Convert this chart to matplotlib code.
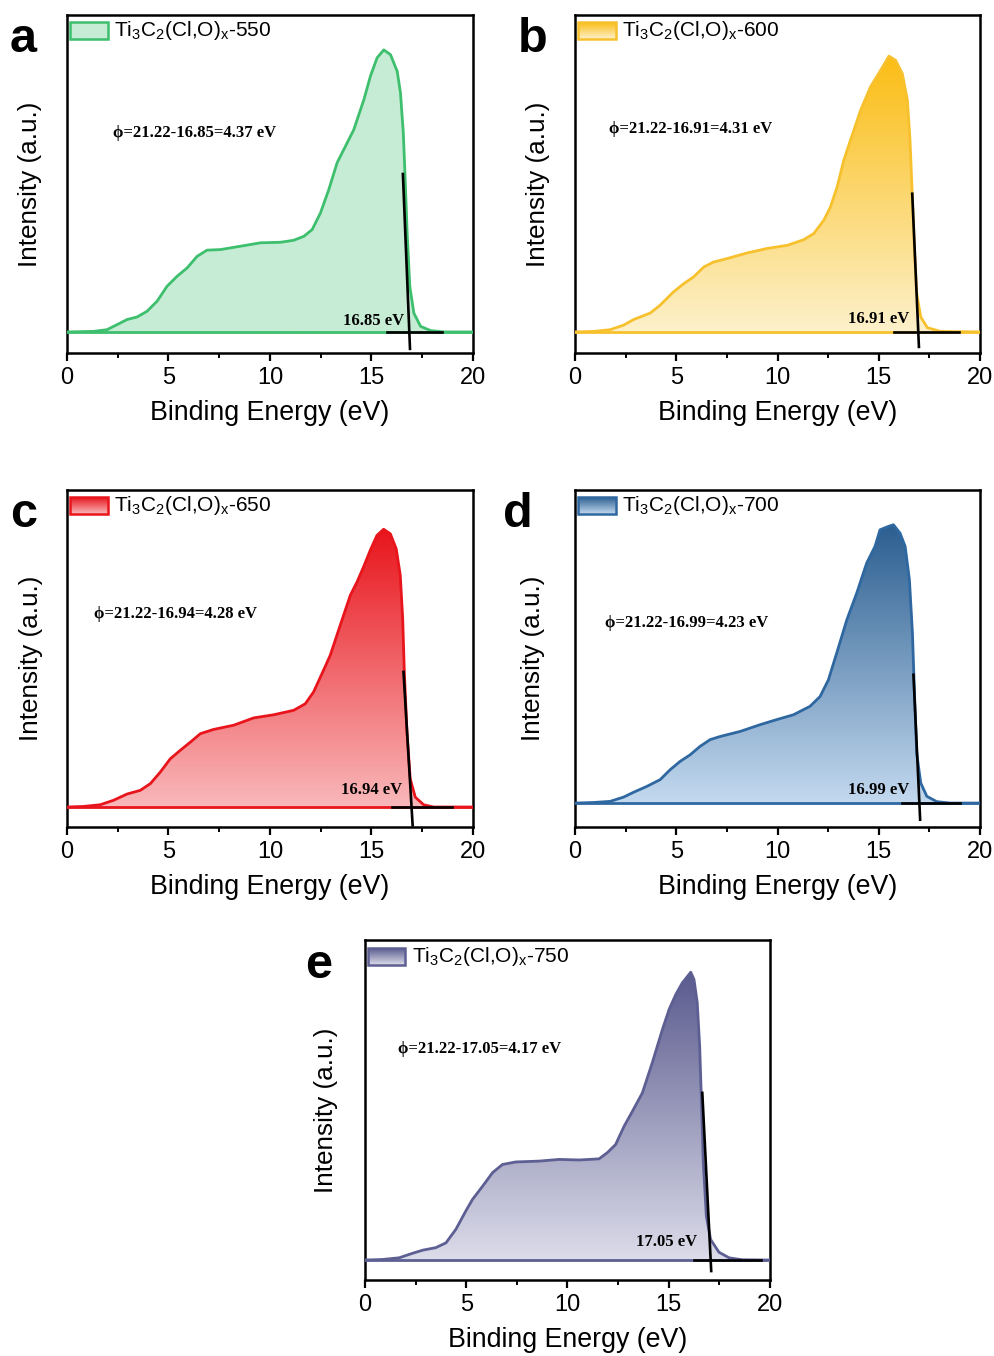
import numpy as np
import matplotlib
matplotlib.use('Agg')
import matplotlib.pyplot as plt
from matplotlib.colors import LinearSegmentedColormap
from matplotlib.patches import Polygon, Rectangle

plt.rcParams['font.family'] = ['Liberation Sans', 'DejaVu Sans']
plt.rcParams['mathtext.fontset'] = 'custom'
plt.rcParams['mathtext.rm'] = 'Liberation Sans'

# ---- data (binding energy in eV, intensity in a.u., baseline = 0) ----
x_550 = [0, 1.31, 1.97, 2.47, 2.96, 3.45, 3.94, 4.44, 4.93, 5.42, 5.92, 6.41, 6.9, 7.56,
         8.55, 9.53, 10.52, 11.17, 11.67, 12.08, 12.49, 12.9, 13.31, 13.64, 14.13, 14.63,
         14.95, 15.28, 15.61, 15.94, 16.27, 16.43, 16.57, 16.65, 16.76, 16.89, 17.09,
         17.42, 17.91, 18.57, 20]
y_550 = [0, 0.002, 0.008, 0.026, 0.044, 0.053, 0.073, 0.109, 0.162, 0.197, 0.227, 0.268,
         0.29, 0.292, 0.304, 0.316, 0.318, 0.325, 0.339, 0.363, 0.422, 0.505, 0.6, 0.647,
         0.717, 0.824, 0.907, 0.972, 1.0, 0.983, 0.924, 0.848, 0.706, 0.564, 0.351, 0.162,
         0.067, 0.02, 0.005, 0, 0]

x_600 = [0, 0.91, 1.73, 2.39, 2.89, 3.71, 4.2, 4.86, 5.36, 5.85, 6.35, 6.84, 7.5, 8.49,
         9.48, 10.47, 11.29, 11.79, 12.28, 12.61, 12.94, 13.27, 13.6, 14.1, 14.59, 15.09,
         15.5, 15.83, 16.16, 16.41, 16.54, 16.65, 16.77, 16.87, 17.07, 17.4, 18.05, 20]
y_600 = [0, 0.002, 0.008, 0.024, 0.044, 0.067, 0.095, 0.142, 0.171, 0.195, 0.23, 0.248,
         0.26, 0.28, 0.296, 0.307, 0.327, 0.349, 0.396, 0.443, 0.514, 0.609, 0.68, 0.786,
         0.869, 0.928, 0.978, 0.963, 0.916, 0.822, 0.68, 0.49, 0.278, 0.136, 0.053, 0.015,
         0.002, 0]

x_650 = [0, 0.82, 1.64, 2.3, 2.96, 3.61, 4.11, 4.6, 5.09, 5.58, 6.08, 6.57, 7.22, 8.21,
         9.2, 10.18, 11.17, 11.74, 12.15, 12.64, 12.97, 13.46, 13.96, 14.29, 14.61, 14.94,
         15.27, 15.6, 15.93, 16.22, 16.42, 16.54, 16.62, 16.75, 16.91, 17.16, 17.57, 18.06, 20]
y_650 = [0, 0.002, 0.008, 0.024, 0.046, 0.059, 0.083, 0.124, 0.171, 0.201, 0.23, 0.26,
         0.275, 0.29, 0.316, 0.327, 0.343, 0.366, 0.408, 0.485, 0.538, 0.644, 0.751, 0.798,
         0.851, 0.91, 0.963, 0.985, 0.969, 0.916, 0.822, 0.668, 0.479, 0.266, 0.1, 0.035,
         0.008, 0, 0]

x_700 = [0, 0.91, 1.73, 2.39, 2.88, 3.54, 4.2, 4.69, 5.19, 5.68, 6.17, 6.67, 7.16, 8.15,
         9.14, 9.96, 10.78, 11.6, 12.1, 12.51, 12.92, 13.42, 13.91, 14.4, 14.81, 15.06,
         15.47, 15.72, 16.05, 16.3, 16.51, 16.66, 16.76, 16.87, 17.07, 17.37, 17.86, 18.52, 20]
y_700 = [0, 0.002, 0.006, 0.021, 0.038, 0.059, 0.083, 0.118, 0.148, 0.171, 0.201, 0.225,
         0.236, 0.254, 0.278, 0.296, 0.313, 0.343, 0.378, 0.437, 0.532, 0.65, 0.745, 0.851,
         0.91, 0.969, 0.981, 0.987, 0.957, 0.91, 0.792, 0.603, 0.39, 0.177, 0.071, 0.024,
         0.005, 0, 0]

x_750 = [0, 0.87, 1.69, 2.35, 2.85, 3.5, 4.0, 4.49, 4.98, 5.31, 5.81, 6.3, 6.79, 7.45,
         8.6, 9.59, 10.58, 11.56, 11.97, 12.38, 12.8, 13.21, 13.7, 14.19, 14.69, 15.02,
         15.35, 15.67, 16.09, 16.25, 16.41, 16.53, 16.61, 16.71, 16.86, 17.07, 17.48,
         17.98, 18.63, 20]
y_750 = [0, 0.002, 0.008, 0.024, 0.035, 0.044, 0.061, 0.109, 0.174, 0.215, 0.262, 0.31,
         0.339, 0.348, 0.351, 0.357, 0.355, 0.359, 0.381, 0.41, 0.475, 0.528, 0.593, 0.7,
         0.818, 0.889, 0.942, 0.983, 1.021, 0.995, 0.913, 0.759, 0.582, 0.345, 0.156, 0.073,
         0.028, 0.008, 0.001, 0]

temps = ['550', '600', '650', '700', '750']
cutoffs = [16.85, 16.91, 16.94, 16.99, 17.05]
work_fn = [4.37, 4.31, 4.28, 4.23, 4.17]
# tangent line end points (x0, y0, x1, y1) and baseline segment (xa, xb)
tangents = [(16.55, 0.56, 16.9, -0.06), (16.65, 0.49, 16.98, -0.053),
            (16.58, 0.479, 17.03, -0.065), (16.71, 0.455, 17.04, -0.059),
            (16.66, 0.593, 17.1, -0.039)]
base_segs = [(15.76, 18.5), (15.75, 18.96), (16.0, 18.96), (16.13, 19.01), (16.25, 19.54)]

xs = [x_550, x_600, x_650, x_700, x_750]
ys = [y_550, y_600, y_650, y_700, y_750]

# ---- styling ----
line_cols = ['#3dbf6e', '#f7c12e', '#e8151c', '#2f68a0', '#5d5f93']
top_cols = ['#c6ecd5', '#fbbd14', '#e8151c', '#2b5e90', '#5a5b8e']
bot_cols = ['#c6ecd5', '#fdf1cb', '#f9b8ba', '#c3d9ef', '#dcdcea']
letters = ['a', 'b', 'c', 'd', 'e']

axes_rects = [[0.0673, 0.7397, 0.408, 0.2493], [0.578, 0.7397, 0.407, 0.2493],
              [0.0673, 0.3901, 0.408, 0.2485], [0.578, 0.3901, 0.407, 0.2485],
              [0.3668, 0.0560, 0.407, 0.2507]]
ylims = [(-0.0745, 1.124), (-0.0745, 1.124), (-0.071, 1.124), (-0.085, 1.11), (-0.071, 1.135)]
letter_pos = [(0.010, 0.9617), (0.5206, 0.9617), (0.010, 0.6114), (0.5055, 0.6114), (0.3065, 0.2788)]
ylab_x = [-0.062, -0.062, -0.059, -0.074, -0.067]
phi_pos = [(2.27, 0.705), (1.65, 0.72), (1.31, 0.686), (1.48, 0.638), (1.61, 0.747)]
cut_pos = [(16.6, 0.025), (16.49, 0.033), (16.5, 0.046), (16.51, 0.032), (16.41, 0.05)]

fig = plt.figure(figsize=(9.95, 13.56), dpi=100)

for i in range(5):
    ax = fig.add_axes(axes_rects[i])
    x = np.array(xs[i])
    y = np.array(ys[i])

    # filled area with vertical gradient, clipped to the curve
    verts = np.column_stack([np.r_[x[0], x, x[-1]], np.r_[0, y, 0]])
    poly = Polygon(verts, closed=True, fc='none', ec='none')
    ax.add_patch(poly)
    cmap = LinearSegmentedColormap.from_list('g' + temps[i], [bot_cols[i], top_cols[i]])
    grad = np.linspace(0, 1, 256).reshape(-1, 1)
    im = ax.imshow(grad, cmap=cmap, aspect='auto', origin='lower',
                   extent=[0, 20, 0, y.max()], zorder=1)
    im.set_clip_path(poly)

    ax.plot(x, y, color=line_cols[i], lw=2.0, zorder=3, solid_joinstyle='round')
    ax.axhline(0, color=line_cols[i], lw=2.0, zorder=3)

    # onset tangent and baseline
    t = tangents[i]
    ax.plot([t[0], t[2]], [t[1], t[3]], color='black', lw=1.9, zorder=4)
    ax.plot(base_segs[i], [0, 0], color='black', lw=1.9, zorder=4)

    ax.text(phi_pos[i][0], phi_pos[i][1],
            '\u03d5=21.22-%.2f=%.2f eV' % (cutoffs[i], work_fn[i]),
            family=['Liberation Serif', 'DejaVu Serif'], weight='bold', fontsize=12,
            va='center', ha='left', zorder=5)
    ax.text(cut_pos[i][0], cut_pos[i][1], '%.2f eV' % cutoffs[i],
            family=['Liberation Serif', 'DejaVu Serif'], weight='bold', fontsize=12,
            va='baseline', ha='right', zorder=5)

    # legend-like swatch
    ax.imshow(grad, cmap=cmap, aspect='auto', origin='lower',
              extent=[0.007, 0.100, 0.928, 0.978], transform=ax.transAxes, zorder=5)
    ax.add_patch(Rectangle((0.007, 0.928), 0.093, 0.05, transform=ax.transAxes,
                           fc='none', ec=line_cols[i], lw=1.8, zorder=6))
    ax.text(0.115, 0.953,
            r'Ti$_{\mathregular{3}}$C$_{\mathregular{2}}$(Cl,O)$_{\mathregular{x}}$-' + temps[i],
            transform=ax.transAxes, fontsize=15, va='center', ha='left', zorder=6)

    ax.set_xlim(0, 20)
    ax.set_ylim(*ylims[i])
    ax.set_xticks([0, 5, 10, 15, 20])
    ax.set_xticks(np.arange(0, 20.1, 2.5), minor=True)
    ax.set_yticks([])
    ax.tick_params(axis='x', which='major', direction='out', length=6, width=1.6,
                   labelsize=17, pad=4)
    ax.tick_params(axis='x', which='minor', direction='out', length=3.5, width=1.4)
    for s in ax.spines.values():
        s.set_linewidth(1.8)
    ax.set_xlabel('Binding Energy (eV)', fontsize=19.3)
    ax.set_ylabel('Intensity (a.u.)', fontsize=18.8)
    ax.xaxis.set_label_coords(0.5, -0.139)
    ax.xaxis.label.set_va('top')
    ax.yaxis.set_label_coords(ylab_x[i], 0.5)

    fig.text(letter_pos[i][0], letter_pos[i][1], letters[i], fontsize=35,
             weight='bold', ha='left', va='baseline')

fig.savefig('out.png', dpi=100)
